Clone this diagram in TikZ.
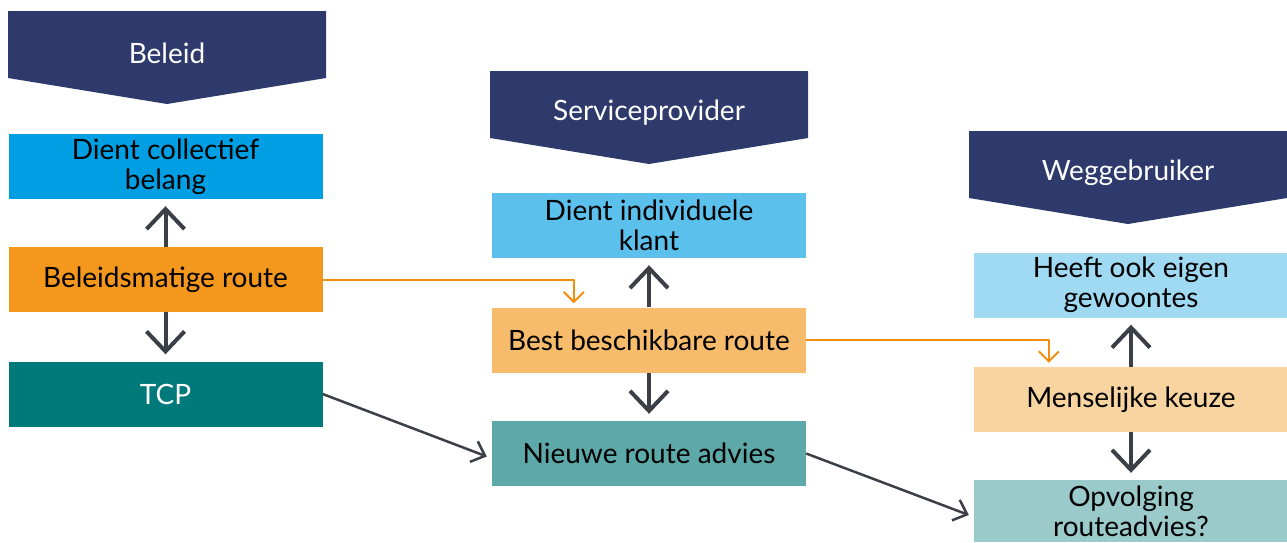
\documentclass[tikz,border=0pt]{standalone}
\usepackage{fontspec}
\setmainfont{Lato}
\usetikzlibrary{arrows.meta}
\definecolor{kopblauw}{HTML}{2D3A6B}
\definecolor{pijlgrijs}{HTML}{3B3F46}
\definecolor{lijnoranje}{HTML}{F18E0F}
\definecolor{blauwA}{HTML}{009FE3}
\definecolor{oranjeA}{HTML}{F3971D}
\definecolor{groenA}{HTML}{00797A}
\definecolor{blauwB}{HTML}{5BC0EB}
\definecolor{oranjeB}{HTML}{F6BC6C}
\definecolor{groenB}{HTML}{5DA8A8}
\definecolor{blauwC}{HTML}{9FD9F2}
\definecolor{oranjeC}{HTML}{F8D4A0}
\definecolor{groenC}{HTML}{9BCACB}
\begin{document}
\begin{tikzpicture}[x=1pt,y=-1pt, font=\fontsize{28}{30}\selectfont, line join=round,
		vak/.style={rectangle, minimum width=314pt, minimum height=65pt, inner sep=0pt, align=center},
		dik/.style={draw=pijlgrijs, line width=4pt, -{Straight Barb[length=20pt,width=38pt]}, shorten >=7pt},
		dun/.style={draw=lijnoranje, line width=2pt, -{Straight Barb[length=10pt,width=20pt]}},
		schuin/.style={draw=pijlgrijs, line width=2.5pt, -{Straight Barb[length=12pt,width=22pt]}}]
	\useasboundingbox (0,0) rectangle (1287,542);
	\def\kb{318} \def\kz{67} \def\kp{93}
	% kopjes
	\foreach \x/\y/\naam/\tekst in {8/11/kopA/Beleid, 490/71/kopB/Serviceprovider, 969/131/kopC/Weggebruiker}{
		\fill[kopblauw] (\x,\y) -- ++(\kb,0) -- ++(0,\kz) -- ++(-\kb/2,\kp-\kz) -- ++(-\kb/2,\kz-\kp) -- cycle;
		\node[white] (\naam) at (\x+\kb/2,\y+42) {\tekst};
	}
	% kolom 1
	\node[vak, fill=blauwA] (collectief) at (165.5,166.5) {Dient collectief\\belang};
	\node[vak, fill=oranjeA] (beleidsroute) at (165.5,279.5) {Beleidsmatige route};
	\node[vak, fill=groenA, text=white] (tcp) at (165.5,394) {TCP};
	% kolom 2
	\node[vak, fill=blauwB] (individueel) at (649,225.5) {Dient individuele\\klant};
	\node[vak, fill=oranjeB] (bestroute) at (649,340) {Best beschikbare route};
	\node[vak, fill=groenB] (advies) at (649,453.5) {Nieuwe route advies};
	% kolom 3
	\node[vak, fill=blauwC] (gewoontes) at (1131,285) {Heeft ook eigen\\gewoontes};
	\node[vak, fill=oranjeC] (keuze) at (1131,399.5) {Menselijke keuze};
	\node[vak, fill=groenC, minimum height=62pt] (opvolging) at (1131,511) {Opvolging\\routeadvies?};
	% pijlen
	\draw[dik] (beleidsroute) -- (collectief);
	\draw[dik] (beleidsroute) -- (tcp);
	\draw[dik] (bestroute) -- (individueel);
	\draw[dik] (bestroute) -- (advies);
	\draw[dik] (keuze) -- (gewoontes);
	\draw[dik] (keuze) -- (opvolging);
	\draw[dun] (beleidsroute.east) -| ([xshift=82pt,yshift=4pt]bestroute.north west);
	\draw[dun] (bestroute.east) -| ([xshift=75pt,yshift=4pt]keuze.north west);
	\draw[schuin] (tcp.east) -- ([xshift=-5pt,yshift=-3pt]advies.west);
	\draw[schuin] (advies.east) -- ([xshift=-5pt,yshift=-4pt]opvolging.west);
\end{tikzpicture}
\end{document}
